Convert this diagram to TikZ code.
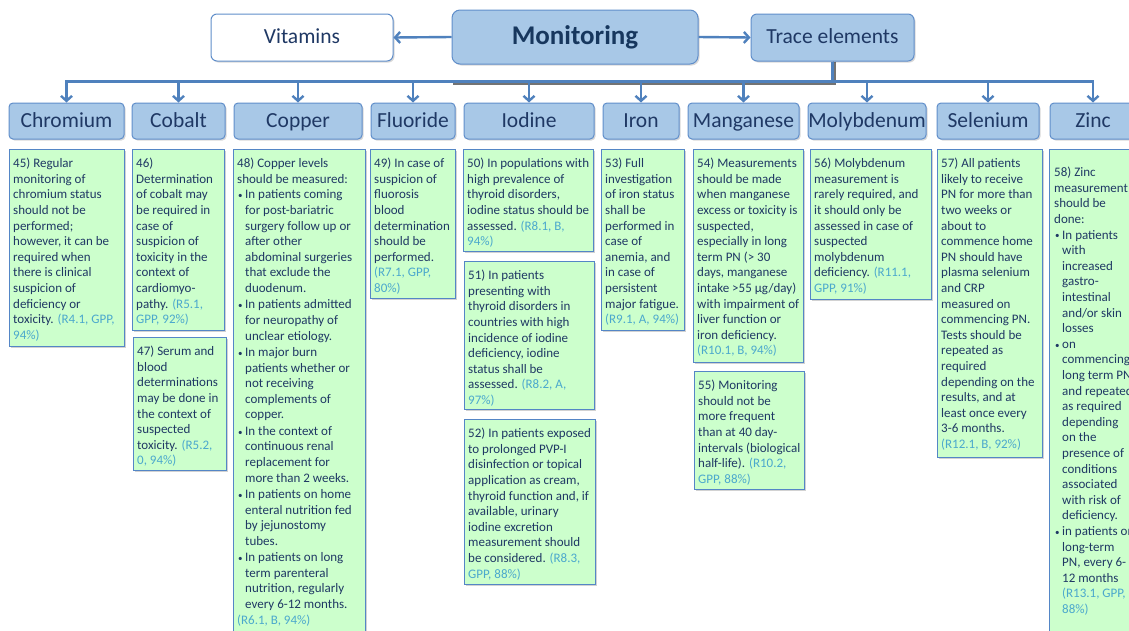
\documentclass[tikz,border=0pt]{standalone}
\usepackage{fontspec}
\setmainfont{Carlito}
\usetikzlibrary{arrows.meta,shadows,calc}
\definecolor{bfill}{RGB}{204,255,204}
\definecolor{bborder}{RGB}{84,134,198}
\definecolor{bodyc}{RGB}{31,56,100}
\definecolor{refc}{RGB}{75,168,205}
\definecolor{hfill}{RGB}{168,200,231}
\definecolor{hborder}{RGB}{96,142,202}
\definecolor{htext}{RGB}{31,56,100}
\definecolor{montext}{RGB}{23,55,94}
\definecolor{connc}{RGB}{79,129,189}
\newcommand\Rf[1]{\textcolor{refc}{#1}}
\newcommand\Bu{\makebox[8pt][l]{\hspace{1pt}\raisebox{0.3pt}{\fontsize{9}{10}\selectfont•}}}
\newcommand\Ci{\hspace*{8pt}}
\newcommand\TB[7][(4,8.5)]{%
  \node[tbox, minimum width={#5-#3}, minimum height={#6-#4}, anchor=north west] (#2) at (#3,#4) {};
  \node[ttext] (#2t) at ([shift={#1}]#2.north west) {\rule{0pt}{10pt}#7};}
\begin{document}
\begin{tikzpicture}[x=1pt,y=-1pt,
  tbox/.style={draw=bborder, fill=bfill, line width=0.9pt, inner sep=0pt,
    drop shadow={shadow xshift=1.5pt,shadow yshift=-1.5pt,opacity=0.35}},
  ttext/.style={inner sep=0pt, anchor=north west, align=left,
    font=\fontsize{13}{15.6}\selectfont, text=bodyc},
  hbox/.style={draw=hborder, fill=hfill, line width=1pt, rounded corners=4pt,
    inner sep=0pt, font=\fontsize{21.5}{26}\selectfont, text=htext,
    text height=16pt, text depth=4pt,
    drop shadow={shadow xshift=1.5pt,shadow yshift=-1.5pt,opacity=0.3}},
  conn/.style={draw=connc, line width=2.4pt, -{Straight Barb[length=5pt,width=11pt]}},
  shadowl/.style={draw=black, opacity=0.55, line width=2.2pt}
]
\fill[white] (0,0) rectangle (1129,630);
\path[use as bounding box] (0,0) rectangle (1129,630);
\clip (0,0) rectangle (1129,630);

% top row
\node[hbox, fill=white, minimum width=182, minimum height=47, rounded corners=6pt] (vit) at (302,37.5) {Vitamins};
\node[hbox, minimum width=246, minimum height=54, rounded corners=8pt,
  font=\fontsize{27}{32}\selectfont\bfseries, text=montext,
  text height=19pt, text depth=5pt] (mon) at (575,37) {Monitoring};
\node[hbox, minimum width=163, minimum height=47, rounded corners=6pt] (tr) at (832.5,37.5) {Trace elements};

% headers
\node[hbox, minimum width=115, minimum height=36] (hCr) at (66.5,121) {Chromium};
\node[hbox, minimum width=93,  minimum height=36] (hCo) at (178.5,121) {Cobalt};
\node[hbox, minimum width=128, minimum height=36] (hCu) at (298,121) {Copper};
\node[hbox, minimum width=84,  minimum height=36] (hF)  at (413,121) {Fluoride};
\node[hbox, minimum width=130, minimum height=36] (hI)  at (529,121) {Iodine};
\node[hbox, minimum width=76,  minimum height=36] (hFe) at (641,121) {Iron};
\node[hbox, minimum width=111, minimum height=36] (hMn) at (743.5,121) {Manganese};
\node[hbox, minimum width=118, minimum height=36] (hMo) at (867,121) {Molybdenum};
\node[hbox, minimum width=102, minimum height=36] (hSe) at (988,121) {Selenium};
\node[hbox, minimum width=86,  minimum height=36] (hZn) at (1093,121) {Zinc};

% connectors
\draw[conn] (mon.west) -- (vit.east);
\draw[conn] (mon.east) -- (tr.west);
\coordinate (bus) at ($(tr.south)+(0,20)$);
\draw[shadowl] ($(tr.south)+(2.2,0)$) -- ($(bus)+(2.2,2.2)$) -- ($(bus)+(-380,2.2)$);
\foreach \h in {hCr,hCo,hCu,hF,hI,hFe,hMn,hMo,hSe,hZn}
  \draw[conn] (tr.south) -- (bus) -| (\h.north);

% text boxes
\TB{b45}{9}{149}{124}{346}{45) Regular\\monitoring of\\chromium status\\should not be\\performed;\\however, it can be\\required when\\there is clinical\\suspicion of\\deficiency or\\toxicity. \Rf{(R4.1, GPP,}\\\Rf{94\%)}}

\TB{b46}{132}{149}{224}{330}{46)\\Determination\\of cobalt may\\be required in\\case of\\suspicion of\\toxicity in the\\context of\\cardiomyo-\\pathy. \Rf{(R5.1,}\\\Rf{GPP, 92\%)}}

\TB{b47}{133}{337}{226}{470}{47) Serum and\\blood\\determinations\\may be done in\\the context of\\suspected\\toxicity. \Rf{(R5.2,}\\\Rf{0, 94\%)}}

\TB{b48}{233}{149}{365}{640}{48) Copper levels\\should be measured:\\\Bu In patients coming\\\Ci for post-bariatric\\\Ci surgery follow up or\\\Ci after other\\\Ci abdominal surgeries\\\Ci that exclude the\\\Ci duodenum.\\[0.8pt]\Bu In patients admitted\\\Ci for neuropathy of\\\Ci unclear etiology.\\[0.8pt]\Bu In major burn\\\Ci patients whether or\\\Ci not receiving\\\Ci complements of\\\Ci copper.\\[0.8pt]\Bu In the context of\\\Ci continuous renal\\\Ci replacement for\\\Ci more than 2 weeks.\\[0.8pt]\Bu In patients on home\\\Ci enteral nutrition fed\\\Ci by jejunostomy\\\Ci tubes.\\[0.8pt]\Bu In patients on long\\\Ci term parenteral\\\Ci nutrition, regularly\\\Ci every 6-12 months.\\\Rf{(R6.1, B, 94\%)}}

\TB{b49}{370}{149}{455}{298}{49) In case of\\suspicion of\\fluorosis\\blood\\determination\\should be\\performed.\\\Rf{(R7.1, GPP,}\\\Rf{80\%)}}

\TB{b50}{463}{149}{593}{251}{50) In populations with\\high prevalence of\\thyroid disorders,\\iodine status should be\\assessed. \Rf{(R8.1, B,}\\\Rf{94\%)}}

\TB{b51}{464}{261}{594}{409}{51) In patients\\presenting with\\thyroid disorders in\\countries with high\\incidence of iodine\\deficiency, iodine\\status shall be\\assessed. \Rf{(R8.2, A,}\\\Rf{97\%)}}

\TB{b52}{464}{419}{595}{584}{52) In patients exposed\\to prolonged PVP-I\\disinfection or topical\\application as cream,\\thyroid function and, if\\available, urinary\\iodine excretion\\measurement should\\be considered. \Rf{(R8.3,}\\\Rf{GPP, 88\%)}}

\TB{b53}{601}{149}{684}{330}{53) Full\\investigation\\of iron status\\shall be\\performed in\\case of\\anemia, and\\in case of\\persistent\\major fatigue.\\\Rf{(R9.1, A, 94\%)}}

\TB{b54}{693}{149}{803}{362}{54) Measurements\\should be made\\when manganese\\excess or toxicity is\\suspected,\\especially in long\\term PN (> 30\\days, manganese\\intake >55 µg/day)\\with impairment of\\liver function or\\iron deficiency.\\\Rf{(R10.1, B, 94\%)}}

\TB{b55}{694}{371}{804}{489}{55) Monitoring\\should not be\\more frequent\\than at 40 day-\\intervals (biological\\half-life). \Rf{(R10.2,}\\\Rf{GPP, 88\%)}}

\TB{b56}{810}{149}{931}{299}{56) Molybdenum\\measurement is\\rarely required, and\\it should only be\\assessed in case of\\suspected\\molybdenum\\deficiency. \Rf{(R11.1,}\\\Rf{GPP, 91\%)}}

\TB{b57}{937}{149}{1042}{457}{57) All patients\\likely to receive\\PN for more than\\two weeks or\\about to\\commence home\\PN should have\\plasma selenium\\and CRP\\measured on\\commencing PN.\\Tests should be\\repeated as\\required\\depending on the\\results, and at\\least once every\\3-6 months.\\\Rf{(R12.1, B, 92\%)}}

\TB[(5,17.5)]{b58}{1049}{149}{1145}{645}{58) Zinc\\measurement\\should be\\done:\\\Bu In patients\\\Ci with\\\Ci increased\\\Ci gastro-\\\Ci intestinal\\\Ci and/or skin\\\Ci losses\\\Bu on\\\Ci commencing\\\Ci long term PN\\\Ci and repeated\\\Ci as required\\\Ci depending\\\Ci on the\\\Ci presence of\\\Ci conditions\\\Ci associated\\\Ci with risk of\\\Ci deficiency.\\\Bu in patients on\\\Ci long-term\\\Ci PN, every 6-\\\Ci 12 months\\\Ci \Rf{(R13.1, GPP,}\\\Ci \Rf{88\%)}}
\end{tikzpicture}
\end{document}
